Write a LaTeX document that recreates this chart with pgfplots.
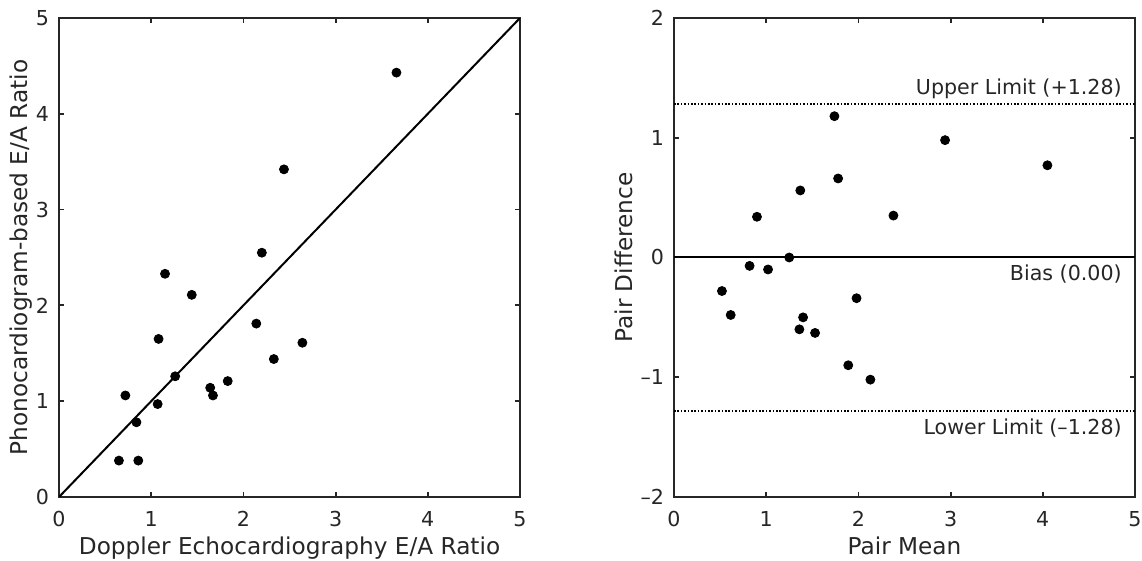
\documentclass[border=0pt]{standalone}
\usepackage{fontspec}
\setmainfont{DejaVu Sans}
\usepackage{pgfplots}
\pgfplotsset{compat=1.18}

\definecolor{axgray}{gray}{0.15}

% shared look of both panels (MATLAB-like box axes)
\pgfplotsset{matlabstyle/.style={
    scale only axis,
    width=230.5pt, height=239.5pt,
    anchor=south west,
    axis line style={axgray, line width=0.9pt},
    tick style={axgray, line width=0.9pt},
    major tick length=2.5pt,
    tick align=inside,
    tick pos=both,
    xticklabel pos=lower, yticklabel pos=left,
    tick label style={font=\fontsize{10.3}{12}\selectfont, text=axgray},
    xticklabel style={anchor=base, yshift=-15pt},
    yticklabel style={xshift=-1.5pt},
    label style={font=\fontsize{11.6}{14}\selectfont, text=axgray},
    xlabel style={at={(axis description cs:0.5,0)}, anchor=base, yshift=-29pt},
    xmin=0, xmax=5, xtick={0,1,2,3,4,5},
    /pgf/number format/assume math mode=true,
}}

\begin{document}
\begin{tikzpicture}
\path[use as bounding box] (0,0) rectangle (571pt,280.5pt);

% left: agreement scatter
\begin{axis}[matlabstyle, at={(29.5pt,32pt)},
    ymin=0, ymax=5, ytick={0,1,2,3,4,5},
    xlabel={Doppler Echocardiography E/A Ratio},
    ylabel={Phonocardiogram-based E/A Ratio},
    ylabel style={at={(axis description cs:0,0.5)}, anchor=base, yshift=16pt}]
\addplot[black, line width=1pt] coordinates {(0,0)(5,5)};
\addplot[only marks, mark=*, mark size=2.25pt, black] coordinates {
    (1.15,2.33)(1.44,2.11)(2.14,1.81)(1.08,1.65)(2.64,1.61)(2.33,1.44)
    (1.26,1.26)(1.83,1.21)(1.64,1.14)(1.67,1.06)(0.72,1.06)(1.07,0.97)
    (0.84,0.78)(0.65,0.38)(0.86,0.38)(3.66,4.43)(2.44,3.42)(2.20,2.55)
};
\end{axis}

% right: Bland-Altman
\begin{axis}[matlabstyle, at={(337pt,32pt)},
    ymin=-2, ymax=2, ytick={-2,-1,0,1,2},
    yticklabels={–2,–1,0,1,2},
    xlabel={Pair Mean},
    ylabel={Pair Difference},
    ylabel style={at={(axis description cs:0,0.5)}, anchor=base, yshift=21pt}]
\addplot[black, line width=1pt] coordinates {(0,0)(5,0)};
\addplot[black, line width=0.9pt, dash pattern=on 0.8pt off 0.9pt] coordinates {(0,1.28)(5,1.28)};
\addplot[black, line width=0.9pt, dash pattern=on 0.8pt off 0.9pt] coordinates {(0,-1.28)(5,-1.28)};
\addplot[only marks, mark=*, mark size=2.25pt, black] coordinates {
    (1.74,1.18)(1.78,0.66)(1.98,-0.34)(1.37,0.56)(2.13,-1.02)(1.89,-0.90)
    (1.25,0.00)(1.53,-0.63)(1.40,-0.50)(1.36,-0.60)(0.90,0.34)(1.02,-0.10)
    (0.82,-0.07)(0.52,-0.28)(0.615,-0.48)(4.05,0.77)(2.94,0.98)(2.38,0.35)
};
\node[anchor=south east, inner sep=0pt, font=\fontsize{10.3}{12}\selectfont, text=axgray]
    at (axis cs:4.86,1.32) {Upper Limit (+1.28)};
\node[anchor=north east, inner sep=0pt, font=\fontsize{10.3}{12}\selectfont, text=axgray]
    at (axis cs:4.86,-0.06) {Bias (0.00)};
\node[anchor=north east, inner sep=0pt, font=\fontsize{10.3}{12}\selectfont, text=axgray]
    at (axis cs:4.86,-1.343) {Lower Limit (–1.28)};
\end{axis}
\end{tikzpicture}
\end{document}
